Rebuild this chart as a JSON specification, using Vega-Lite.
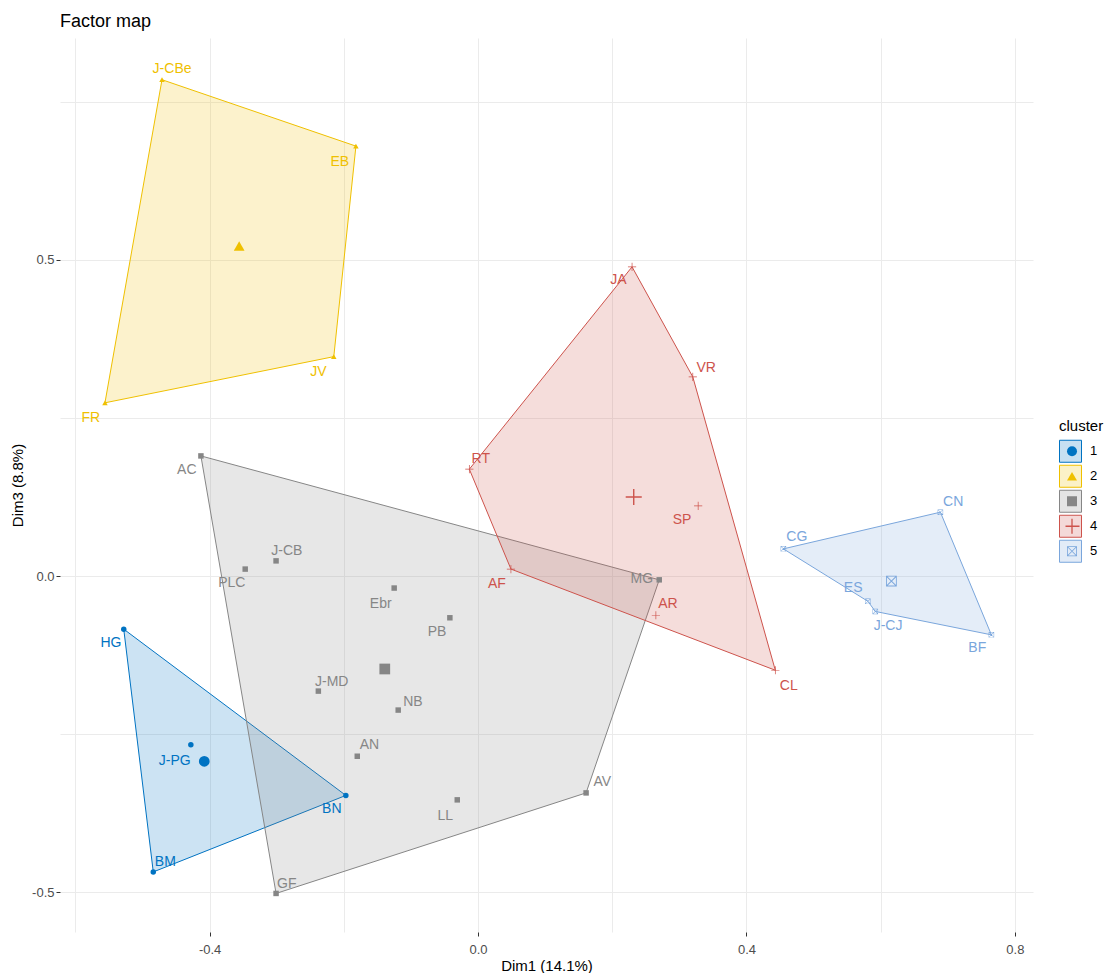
{
  "$schema": "https://vega.github.io/schema/vega-lite/v6.json",
  "autosize": {"type": "none"},
  "padding": {"left": 60, "top": 38, "right": 73, "bottom": 41},
  "width": 973,
  "height": 894,
  "background": "white",
  "title": {"text": "Factor map", "anchor": "start", "frame": "group", "fontSize": 18, "font": "Liberation Sans", "fontWeight": "normal", "color": "black", "offset": 7},
  "config": {
    "view": {"stroke": null},
    "font": "Liberation Sans",
    "axis": {
      "domain": false,
      "gridColor": "#EBEBEB",
      "gridWidth": 1,
      "tickColor": "#333333",
      "tickSize": 4,
      "labelFontSize": 13,
      "labelColor": "#4D4D4D",
      "labelFont": "Liberation Sans",
      "titleFont": "Liberation Sans",
      "titleFontSize": 15,
      "titleFontWeight": "normal",
      "titleColor": "black"
    },
    "legend": {
      "titleFont": "Liberation Sans",
      "labelFont": "Liberation Sans",
      "titleFontWeight": "normal",
      "titleFontSize": 15,
      "titleColor": "black",
      "labelFontSize": 13,
      "labelColor": "black",
      "padding": 0
    }
  },
  "datasets": {
    "points": [
      {"name": "HG", "cluster": "1", "x": -0.528, "y": -0.084, "lx": -0.547, "ly": -0.106},
      {"name": "BN", "cluster": "1", "x": -0.197, "y": -0.347, "lx": -0.218, "ly": -0.369},
      {"name": "BM", "cluster": "1", "x": -0.484, "y": -0.468, "lx": -0.466, "ly": -0.453},
      {"name": "J-PG", "cluster": "1", "x": -0.428, "y": -0.267, "lx": -0.452, "ly": -0.293},
      {"name": "J-CBe", "cluster": "2", "x": -0.471, "y": 0.785, "lx": -0.456, "ly": 0.802},
      {"name": "EB", "cluster": "2", "x": -0.182, "y": 0.680, "lx": -0.206, "ly": 0.655},
      {"name": "JV", "cluster": "2", "x": -0.215, "y": 0.347, "lx": -0.238, "ly": 0.323},
      {"name": "FR", "cluster": "2", "x": -0.556, "y": 0.274, "lx": -0.577, "ly": 0.250},
      {"name": "AC", "cluster": "3", "x": -0.413, "y": 0.190, "lx": -0.434, "ly": 0.168},
      {"name": "J-CB", "cluster": "3", "x": -0.301, "y": 0.024, "lx": -0.285, "ly": 0.040},
      {"name": "PLC", "cluster": "3", "x": -0.347, "y": 0.011, "lx": -0.367, "ly": -0.011},
      {"name": "Ebr", "cluster": "3", "x": -0.125, "y": -0.019, "lx": -0.145, "ly": -0.044},
      {"name": "PB", "cluster": "3", "x": -0.042, "y": -0.066, "lx": -0.061, "ly": -0.089},
      {"name": "J-MD", "cluster": "3", "x": -0.238, "y": -0.182, "lx": -0.218, "ly": -0.168},
      {"name": "NB", "cluster": "3", "x": -0.119, "y": -0.212, "lx": -0.097, "ly": -0.199},
      {"name": "AN", "cluster": "3", "x": -0.180, "y": -0.285, "lx": -0.162, "ly": -0.267},
      {"name": "LL", "cluster": "3", "x": -0.031, "y": -0.354, "lx": -0.049, "ly": -0.380},
      {"name": "GF", "cluster": "3", "x": -0.301, "y": -0.502, "lx": -0.285, "ly": -0.487},
      {"name": "AV", "cluster": "3", "x": 0.161, "y": -0.343, "lx": 0.185, "ly": -0.326},
      {"name": "MG", "cluster": "3", "x": 0.270, "y": -0.006, "lx": 0.244, "ly": -0.005},
      {"name": "JA", "cluster": "4", "x": 0.2295, "y": 0.489, "lx": 0.209, "ly": 0.468},
      {"name": "VR", "cluster": "4", "x": 0.320, "y": 0.315, "lx": 0.340, "ly": 0.329},
      {"name": "RT", "cluster": "4", "x": -0.013, "y": 0.169, "lx": 0.004, "ly": 0.185},
      {"name": "AF", "cluster": "4", "x": 0.049, "y": 0.011, "lx": 0.028, "ly": -0.013},
      {"name": "SP", "cluster": "4", "x": 0.328, "y": 0.111, "lx": 0.304, "ly": 0.089},
      {"name": "AR", "cluster": "4", "x": 0.265, "y": -0.062, "lx": 0.283, "ly": -0.044},
      {"name": "CL", "cluster": "4", "x": 0.443, "y": -0.149, "lx": 0.463, "ly": -0.174},
      {"name": "CG", "cluster": "5", "x": 0.455, "y": 0.043, "lx": 0.475, "ly": 0.062},
      {"name": "CN", "cluster": "5", "x": 0.689, "y": 0.101, "lx": 0.708, "ly": 0.117},
      {"name": "BF", "cluster": "5", "x": 0.765, "y": -0.093, "lx": 0.744, "ly": -0.114},
      {"name": "ES", "cluster": "5", "x": 0.581, "y": -0.040, "lx": 0.559, "ly": -0.019},
      {"name": "J-CJ", "cluster": "5", "x": 0.592, "y": -0.056, "lx": 0.611, "ly": -0.079}
    ],
    "hull": [
      {"cluster": "1", "ord": 1, "x": -0.528, "y": -0.084},
      {"cluster": "1", "ord": 2, "x": -0.197, "y": -0.347},
      {"cluster": "1", "ord": 3, "x": -0.484, "y": -0.468},
      {"cluster": "2", "ord": 1, "x": -0.471, "y": 0.785},
      {"cluster": "2", "ord": 2, "x": -0.182, "y": 0.680},
      {"cluster": "2", "ord": 3, "x": -0.215, "y": 0.347},
      {"cluster": "2", "ord": 4, "x": -0.556, "y": 0.274},
      {"cluster": "3", "ord": 1, "x": -0.413, "y": 0.190},
      {"cluster": "3", "ord": 2, "x": 0.270, "y": -0.006},
      {"cluster": "3", "ord": 3, "x": 0.161, "y": -0.343},
      {"cluster": "3", "ord": 4, "x": -0.301, "y": -0.502},
      {"cluster": "4", "ord": 1, "x": 0.2295, "y": 0.489},
      {"cluster": "4", "ord": 2, "x": 0.320, "y": 0.315},
      {"cluster": "4", "ord": 3, "x": 0.443, "y": -0.149},
      {"cluster": "4", "ord": 4, "x": 0.049, "y": 0.011},
      {"cluster": "4", "ord": 5, "x": -0.013, "y": 0.169},
      {"cluster": "5", "ord": 1, "x": 0.455, "y": 0.043},
      {"cluster": "5", "ord": 2, "x": 0.689, "y": 0.101},
      {"cluster": "5", "ord": 3, "x": 0.765, "y": -0.093},
      {"cluster": "5", "ord": 4, "x": 0.592, "y": -0.056},
      {"cluster": "5", "ord": 5, "x": 0.581, "y": -0.040}
    ],
    "centroids": [
      {"cluster": "1", "x": -0.408, "y": -0.293},
      {"cluster": "2", "x": -0.356, "y": 0.522},
      {"cluster": "3", "x": -0.139, "y": -0.147},
      {"cluster": "4", "x": 0.232, "y": 0.125},
      {"cluster": "5", "x": 0.616, "y": -0.008}
    ]
  },
  "layer": [
    {
      "data": {"name": "hull"},
      "mark": {"type": "line", "interpolate": "linear-closed", "strokeWidth": 1, "fillOpacity": 0.2},
      "encoding": {
        "x": {
          "field": "x", "type": "quantitative", "title": "Dim1 (14.1%)",
          "scale": {"domain": [-0.623, 0.827], "nice": false, "zero": false},
          "axis": {
            "values": [-0.6, -0.4, -0.2, 0, 0.2, 0.4, 0.6, 0.8],
            "labelExpr": "abs(round(datum.value*5))%2==0 ? (datum.value < 0 ? '-' : '') + format(abs(datum.value),'.1f') : ''",
            "tickOpacity": {"condition": {"test": "abs(round(datum.value*5))%2==0", "value": 1}, "value": 0},
            "labelPadding": 7,
            "titlePadding": 2
          }
        },
        "y": {
          "field": "y", "type": "quantitative", "title": "Dim3 (8.8%)",
          "scale": {"domain": [-0.563, 0.851], "nice": false, "zero": false},
          "axis": {
            "values": [-0.5, -0.25, 0, 0.25, 0.5, 0.75],
            "labelExpr": "abs(round(datum.value*4))%2==0 ? (datum.value < 0 ? '-' : '') + format(abs(datum.value),'.1f') : ''",
            "tickOpacity": {"condition": {"test": "abs(round(datum.value*4))%2==0", "value": 1}, "value": 0},
            "labelPadding": 2,
            "titlePadding": 6
          }
        },
        "order": {"field": "ord", "type": "quantitative"},
        "fill": {
          "field": "cluster", "type": "nominal",
          "scale": {"domain": {"unionWith": ["1", "2", "3", "4", "5"]}, "range": ["#0073C2", "#EFC000", "#868686", "#CD534C", "#7AA6DC"]},
          "legend": {"title": "cluster", "orient": "none", "legendX": 999, "legendY": 381, "symbolType": "square", "symbolSize": 484, "clipHeight": 24.5, "rowPadding": 0, "labelOffset": 8,
            "encode": {"symbols": {"update": {"fillOpacity": {"value": 0.22}, "strokeWidth": {"value": 1}, "opacity": {"value": 1}}}}}
        },
        "stroke": {
          "field": "cluster", "type": "nominal",
          "scale": {"domain": {"unionWith": ["1", "2", "3", "4", "5"]}, "range": ["#0073C2", "#EFC000", "#868686", "#CD534C", "#7AA6DC"]},
          "legend": {"title": "cluster", "orient": "none", "legendX": 999, "legendY": 381, "symbolType": "square", "symbolSize": 484, "clipHeight": 24.5, "rowPadding": 0, "labelOffset": 8,
            "encode": {"symbols": {"update": {"fillOpacity": {"value": 0.22}, "strokeWidth": {"value": 1}, "opacity": {"value": 1}}}}}
        }
      }
    },
    {
      "data": {"name": "points"},
      "mark": {"type": "point", "filled": true, "opacity": 1, "size": 30},
      "encoding": {
        "x": {"field": "x", "type": "quantitative", "title": "Dim1 (14.1%)"},
        "y": {"field": "y", "type": "quantitative", "title": "Dim3 (8.8%)"},
        "color": {
          "field": "cluster", "type": "nominal",
          "scale": {"domain": ["1", "2", "3", "4", "5"], "range": ["#0073C2", "#EFC000", "#868686", "#CD534C", "#7AA6DC"]},
          "legend": {"title": "cl", "orient": "none", "legendX": 1005.5, "legendY": 381, "symbolSize": 100, "clipHeight": 24.5, "rowPadding": 0, "labelColor": "transparent", "titleColor": "transparent", "symbolStrokeWidth": 0}
        },
        "shape": {
          "field": "cluster", "type": "nominal",
          "scale": {"domain": ["1", "2", "3", "4", "5"], "range": ["circle", "triangle-up", "square", "M-1.5,-0.13L-0.13,-0.13L-0.13,-1.5L0.13,-1.5L0.13,-0.13L1.5,-0.13L1.5,0.13L0.13,0.13L0.13,1.5L-0.13,1.5L-0.13,0.13L-1.5,0.13Z", "M-1,-1L1,-1L1,1L-1,1ZM-0.84,-0.84L-0.84,0.84L0.84,0.84L0.84,-0.84ZM-0.88,-1L1,0.88L0.88,1L-1,-0.88ZM1,-0.88L-0.88,1L-1,0.88L0.88,-1Z"]},
          "legend": {"title": "cl", "orient": "none", "legendX": 1005.5, "legendY": 381, "symbolSize": 100, "clipHeight": 24.5, "rowPadding": 0, "labelColor": "transparent", "titleColor": "transparent", "symbolStrokeWidth": 0}
        }
      }
    },
    {
      "data": {"name": "centroids"},
      "mark": {"type": "point", "filled": true, "opacity": 1, "size": 115},
      "encoding": {
        "x": {"field": "x", "type": "quantitative", "title": "Dim1 (14.1%)"},
        "y": {"field": "y", "type": "quantitative", "title": "Dim3 (8.8%)"},
        "color": {"field": "cluster", "type": "nominal", "title": "cl"},
        "shape": {"field": "cluster", "type": "nominal", "title": "cl"}
      }
    },
    {
      "data": {"name": "points"},
      "mark": {"type": "text", "fontSize": 14, "font": "Liberation Sans"},
      "encoding": {
        "x": {"field": "lx", "type": "quantitative", "title": "Dim1 (14.1%)"},
        "y": {"field": "ly", "type": "quantitative", "title": "Dim3 (8.8%)"},
        "text": {"field": "name", "type": "nominal"},
        "color": {"field": "cluster", "type": "nominal", "title": "cl"}
      }
    }
  ]
}
